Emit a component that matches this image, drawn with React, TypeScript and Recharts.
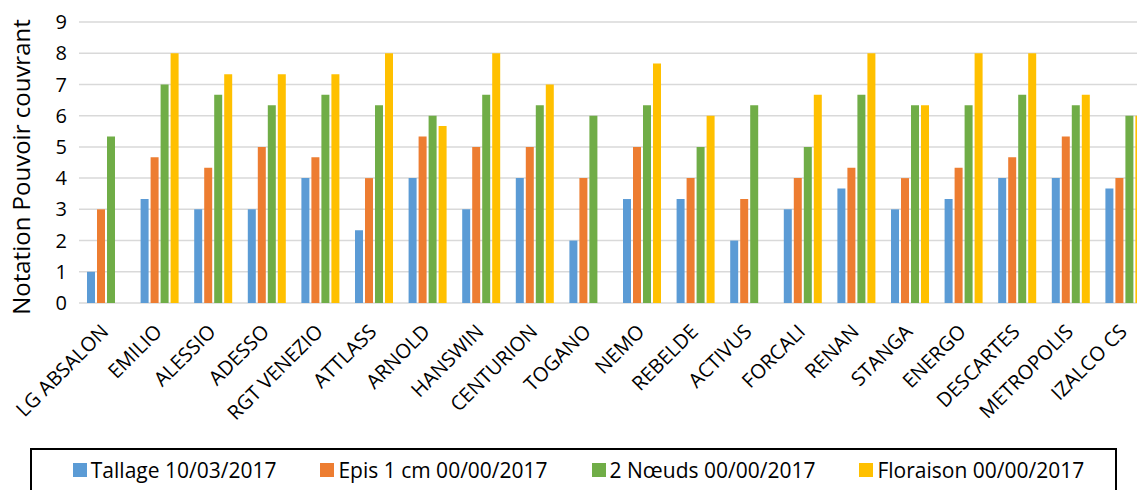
import React from 'react';
import { BarChart, Bar, XAxis, YAxis, CartesianGrid, Label } from 'recharts';

const varieties = [
  'LG ABSALON', 'EMILIO', 'ALESSIO', 'ADESSO', 'RGT VENEZIO', 'ATTLASS', 'ARNOLD', 'HANSWIN', 'CENTURION', 'TOGANO',
  'NEMO', 'REBELDE', 'ACTIVUS', 'FORCALI', 'RENAN', 'STANGA', 'ENERGO', 'DESCARTES', 'METROPOLIS', 'IZALCO CS',
];

const tallage = [1, 3.33, 3, 3, 4, 2.33, 4, 3, 4, 2, 3.33, 3.33, 2, 3, 3.67, 3, 3.33, 4, 4, 3.67];
const epis = [3, 4.67, 4.33, 5, 4.67, 4, 5.33, 5, 5, 4, 5, 4, 3.33, 4, 4.33, 4, 4.33, 4.67, 5.33, 4];
const noeuds = [5.33, 7, 6.67, 6.33, 6.67, 6.33, 6, 6.67, 6.33, 6, 6.33, 5, 6.33, 5, 6.67, 6.33, 6.33, 6.67, 6.33, 6];
const floraison = [null, 8, 7.33, 7.33, 7.33, 8, 5.67, 8, 7, null, 7.67, 6, null, 6.67, 8, 6.33, 8, 8, 6.67, 6];

const yTicks = [0, 1, 2, 3, 4, 5, 6, 7, 8, 9];

const series = [
  { key: 'tallage', name: 'Tallage 10/03/2017', color: '#5B9BD5' },
  { key: 'epis', name: 'Epis 1 cm 00/00/2017', color: '#ED7D31' },
  { key: 'noeuds', name: '2 Nœuds 00/00/2017', color: '#70AD47' },
  { key: 'floraison', name: 'Floraison 00/00/2017', color: '#FFC000' },
];

const data = varieties.map((name, i) => ({
  name,
  tallage: tallage[i],
  epis: epis[i],
  noeuds: noeuds[i],
  floraison: floraison[i],
}));

const font = '"Open Sans", sans-serif';

const CategoryTick = (props: any) => {
  const { x, y, payload } = props;
  return (
    <g transform={`translate(${x - 1},${y + 25}) rotate(-45)`}>
      <text textAnchor="end" dy="0.35em" fontSize={20} fontFamily={font} fill="#000">
        {payload.value}
      </text>
    </g>
  );
};

const App: React.FC = () => {
  return (
    <div style={{ position: 'absolute', left: 0, top: 0, width: 1137, height: 490, overflow: 'hidden', background: '#fff' }}>
      <BarChart
        width={1160}
        height={490}
        data={data}
        margin={{ top: 22, right: 9, bottom: 0, left: 0 }}
        barSize={8}
        barGap={2}
      >
        <CartesianGrid vertical={false} stroke="#d9d9d9" strokeWidth={1.5} />
        <XAxis
          dataKey="name"
          interval={0}
          height={187}
          axisLine={false}
          tickLine={false}
          tickSize={0}
          tickMargin={0}
          tick={<CategoryTick />}
        />
        <YAxis
          width={79}
          domain={[0, 9]}
          ticks={yTicks}
          axisLine={false}
          tickLine={false}
          tickSize={0}
          tickMargin={12}
          tick={{ fontSize: 20, fontFamily: font, fill: '#000' }}
        >
          <Label
            content={() => (
              <text
                transform="translate(22,167) rotate(-90)"
                textAnchor="middle"
                dy="0.35em"
                fontSize={24}
                fontFamily={font}
                fill="#000"
              >
                Notation Pouvoir couvrant
              </text>
            )}
          />
        </YAxis>
        {series.map((s) => (
          <Bar key={s.key} dataKey={s.key} name={s.name} fill={s.color} isAnimationActive={false} />
        ))}
      </BarChart>
      <div
        style={{
          position: 'absolute',
          left: 30,
          top: 448,
          width: 1073,
          height: 60,
          border: '2px solid #000',
          display: 'flex',
          justifyContent: 'center',
          alignItems: 'flex-start',
          gap: 44,
          paddingLeft: 10,
          boxSizing: 'content-box',
          fontFamily: font,
          fontSize: 21,
          color: '#000',
        }}
      >
        {series.map((s) => (
          <div key={s.key} style={{ display: 'flex', alignItems: 'center', height: 40, whiteSpace: 'nowrap' }}>
            <span style={{ display: 'inline-block', width: 14, height: 14, background: s.color, marginRight: 4 }} />
            <span>{s.name}</span>
          </div>
        ))}
      </div>
    </div>
  );
};

export default App;
